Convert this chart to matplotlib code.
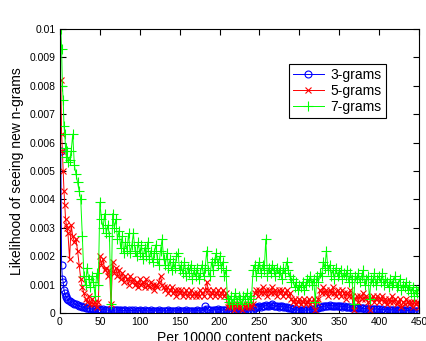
import numpy as np
import matplotlib
matplotlib.use("Agg")
import matplotlib.pyplot as plt

# x positions (per 10000 content packets): every unit at the start, then every 2
x_start = [1, 2, 3, 4, 5, 6, 7, 8, 9, 10]
x_step = 2
x_first = 12
x_last = 450

# values, in units of 1e-4
grams3 = [57, 17, 12, 11, 8, 7, 6, 5.5, 5, 4.5,
          4.2, 3.8, 3.5, 3.2, 3, 2.7, 2.5, 2.3, 2.1, 2,
          1.8, 1.6, 1.7, 1.5, 1.4, 1.3, 1.5, 1.2, 1.4, 1.3,
          1.2, 1.3, 1.1, 1.2, 1.0, 1.1, 0.3, 1.2, 1.0, 1.1,
          1.0, 0.9, 1.0, 0.8, 0.9, 1.0, 0.8, 0.9, 0.8, 0.9,
          0.8, 0.9, 0.7, 0.8, 0.9, 0.7, 0.8, 0.9, 0.8, 0.7,
          0.8, 0.9, 0.7, 0.8, 0.8, 0.7, 0.9, 0.8, 0.7, 0.8,
          0.8, 0.7, 0.9, 0.8, 0.7, 0.8, 0.7, 0.8, 0.9, 0.7,
          0.8, 0.7, 0.8, 0.9, 0.7, 0.8, 0.7, 0.8, 0.7, 0.8,
          0.9, 0.8, 0.7, 0.8, 1.2, 2.5, 1.5, 1.0, 0.9, 0.8,
          1.0, 1.2, 1.1, 1.3, 1.2, 1.1, 1.0, 1.2, 1.1, 0.8,
          0.7, 0.6, 0.7, 0.6, 0.7, 0.6, 0.7, 0.6, 0.7, 0.6,
          0.7, 0.6, 0.7, 0.8, 0.7, 0.9, 1.8, 2.0, 2.2, 2.4,
          2.2, 2.6, 2.3, 2.8, 2.5, 2.3, 2.7, 3.0, 2.6, 2.4,
          2.5, 2.2, 2.4, 2.3, 2.1, 2.2, 2.0, 1.8, 1.9, 1.6,
          1.4, 1.2, 1.1, 1.0, 1.1, 1.0, 0.9, 1.1, 1.0, 1.0,
          1.1, 1.2, 1.3, 1.4, 1.5, 1.7, 1.9, 2.0, 2.2, 2.3,
          2.4, 2.6, 2.5, 2.7, 2.5, 2.6, 2.4, 2.6, 2.5, 2.3,
          2.4, 2.2, 2.3, 2.1, 2.2, 2.0, 2.1, 1.9, 2.0, 1.8,
          1.9, 1.7, 1.8, 1.6, 1.7, 1.5, 1.6, 1.5, 1.4, 1.5,
          1.4, 1.3, 1.5, 1.3, 1.4, 1.2, 1.3, 1.2, 1.1, 1.2,
          1.1, 1.0, 1.2, 1.0, 1.1, 0.9, 1.0, 0.9, 1.0, 0.9,
          0.9, 0.8, 0.9, 0.8, 0.9, 0.8, 0.7, 0.8, 0.7, 0.8]

grams5 = [82, 63, 57, 50, 43, 38, 33, 31, 30, 28,
          19, 31, 27, 25, 26, 22, 17, 12, 9, 7,
          5, 4, 6, 3, 5, 3, 4, 2, 4, 20,
          17, 19, 15, 16, 13, 15, 3, 18, 14, 16,
          13, 15, 12, 14, 11, 13, 12, 10, 13, 11,
          12, 10, 11, 9, 12, 10, 11, 9, 12, 10,
          9, 11, 10, 8, 10, 9, 11, 13, 10, 9,
          8, 9, 7, 8, 9, 7, 8, 6, 8, 7,
          8, 6, 7, 8, 6, 7, 8, 6, 7, 6,
          7, 6, 8, 7, 6, 8, 11, 8, 6, 7,
          8, 6, 7, 8, 6, 7, 8, 6, 7, 2,
          3, 2, 3, 1, 3, 2, 3, 2, 1, 3,
          2, 3, 2, 3, 2, 3, 7, 8, 6, 8,
          7, 9, 7, 8, 6, 8, 7, 9, 7, 8,
          6, 8, 7, 8, 6, 7, 8, 6, 7, 5,
          4, 5, 3, 4, 5, 3, 4, 5, 3, 4,
          5, 3, 4, 5, 1, 4, 5, 8, 7, 9,
          7, 8, 6, 8, 7, 9, 7, 6, 8, 7,
          6, 8, 7, 5, 7, 6, 8, 6, 1, 5,
          6, 4, 6, 5, 7, 5, 6, 4, 1, 5,
          6, 4, 5, 6, 4, 5, 6, 4, 5, 3,
          5, 4, 6, 4, 5, 3, 4, 5, 2, 4,
          3, 5, 4, 3, 4, 2, 4, 3, 4, 2]

grams7 = [100, 93, 80, 75, 66, 63, 58, 55, 57, 53,
          54, 57, 63, 52, 49, 46, 43, 40, 27, 13,
          10, 16, 12, 9, 13, 11, 6, 14, 10, 39,
          33, 30, 35, 28, 31, 27, 3, 35, 30, 33,
          26, 29, 23, 27, 21, 25, 22, 28, 21, 24,
          28, 22, 20, 25, 21, 24, 19, 23, 20, 25,
          19, 22, 18, 21, 24, 19, 17, 22, 26, 19,
          17, 21, 16, 19, 15, 18, 16, 20, 21, 15,
          17, 14, 18, 13, 16, 14, 17, 12, 15, 13,
          16, 12, 14, 17, 13, 16, 22, 15, 13, 18,
          15, 19, 21, 17, 20, 16, 18, 13, 15, 5,
          4, 6, 3, 5, 7, 4, 6, 5, 3, 6,
          5, 7, 4, 6, 5, 15, 17, 13, 16, 18,
          14, 17, 15, 26, 13, 16, 14, 17, 15, 13,
          16, 14, 15, 12, 16, 14, 18, 15, 13, 11,
          12, 9, 11, 8, 10, 9, 11, 8, 10, 12,
          11, 13, 10, 12, 4, 13, 11, 14, 13, 18,
          16, 22, 15, 17, 13, 15, 12, 16, 13, 14,
          15, 12, 14, 13, 15, 11, 14, 12, 3, 13,
          12, 14, 11, 13, 15, 10, 12, 13, 5, 12,
          11, 14, 10, 12, 13, 11, 14, 10, 12, 11,
          9, 12, 10, 11, 13, 9, 10, 12, 8, 10,
          9, 11, 8, 10, 7, 9, 6, 8, 7, 9]

labels = ["3-grams", "5-grams", "7-grams"]
colors = ["#0000ff", "#ff0000", "#00ff00"]
markers = ["o", "x", "+"]
msizes = [5, 4.3, 7.5]

x = np.concatenate([x_start, np.arange(x_first, x_last + 1, x_step)])

plt.rcParams["font.family"] = ["Liberation Sans", "DejaVu Sans"]

fig = plt.figure(figsize=(4.27, 3.41), dpi=100)
ax = fig.add_axes([0.1405, 0.0821, 0.8407, 0.8328])

for vals, lab, c, m, ms in zip([grams3, grams5, grams7], labels, colors, markers, msizes):
    ax.plot(x, np.array(vals) * 1e-4, color=c, marker=m, markersize=ms,
            markerfacecolor="none", markeredgewidth=0.8, linewidth=0.7, label=lab)

ax.set_xlim(0, 450)
ax.set_ylim(0, 0.01)
ax.set_xticks(np.arange(0, 451, 50))
ax.set_yticks(np.arange(0, 0.0101, 0.001))
ax.set_yticklabels(["0", "0.001", "0.002", "0.003", "0.004", "0.005",
                    "0.006", "0.007", "0.008", "0.009", "0.01"])
ax.tick_params(direction="in", length=4, width=0.8, labelsize=7.5, pad=3,
               top=True, right=True, colors="black")
for s in ax.spines.values():
    s.set_linewidth(0.8)

ax.set_xlabel("Per 10000 content packets", fontsize=10, labelpad=3)
ax.set_ylabel("Likelihood of seeing new n-grams", fontsize=10, labelpad=4)

leg = ax.legend(loc="upper right", bbox_to_anchor=(0.908, 0.877), borderaxespad=0,
                fontsize=10, fancybox=False, framealpha=1, edgecolor="black",
                labelspacing=0.15, handlelength=2.2, handletextpad=0.5, borderpad=0.3)
leg.get_frame().set_linewidth(0.8)

fig.savefig("out.png", dpi=100)
